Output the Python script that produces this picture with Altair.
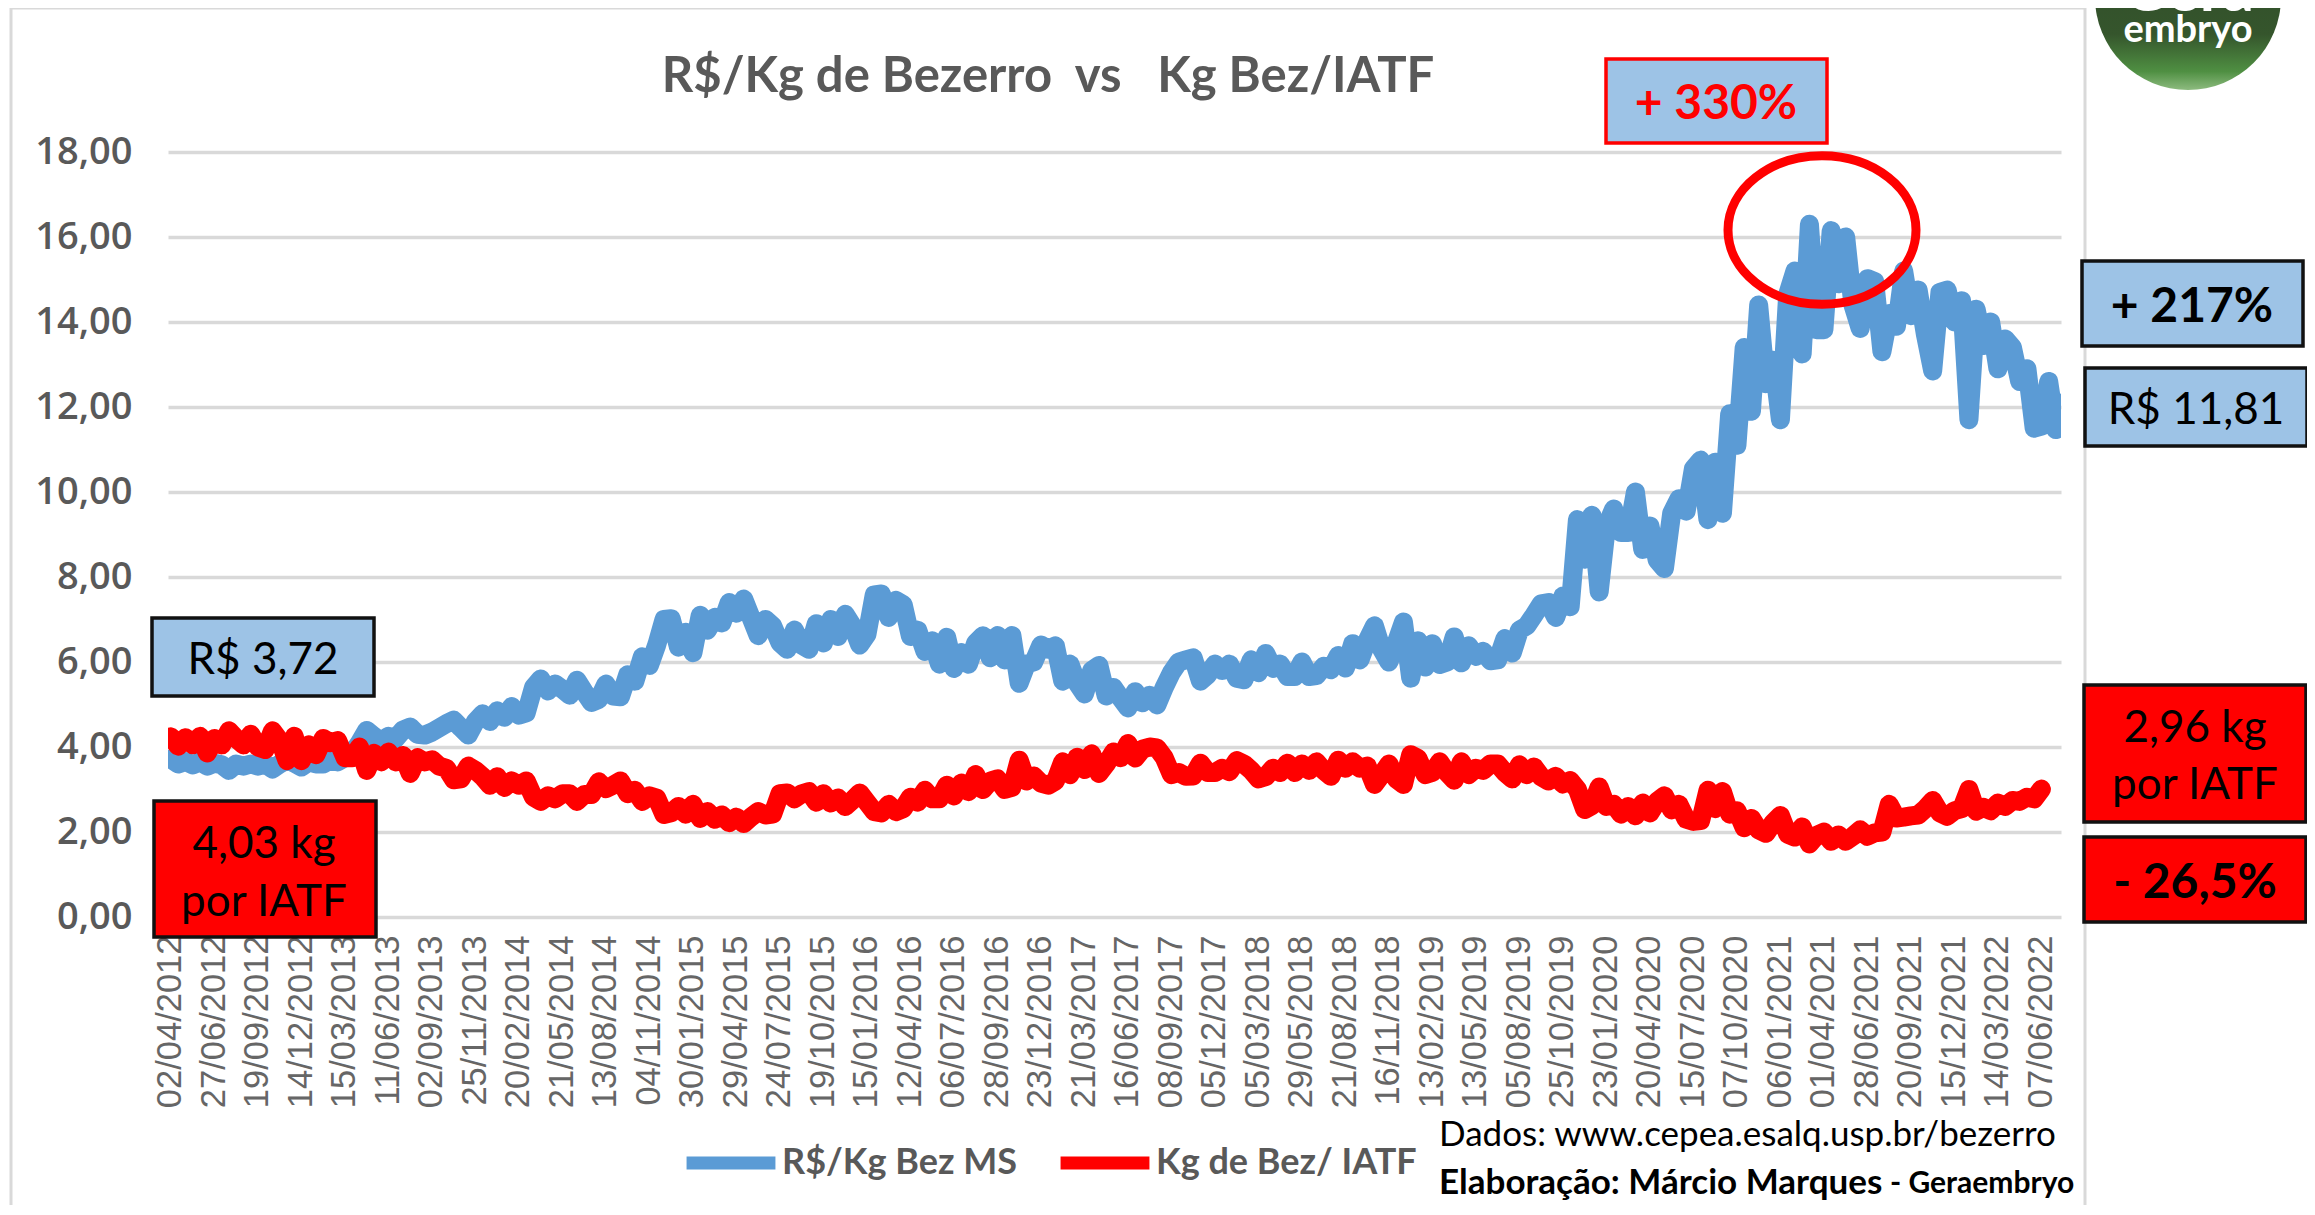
import altair as alt
import pandas as pd

dates = ["02/04/2012","27/06/2012","19/09/2012","14/12/2012","15/03/2013","11/06/2013","02/09/2013","25/11/2013",
"20/02/2014","21/05/2014","13/08/2014","04/11/2014","30/01/2015","29/04/2015","24/07/2015","19/10/2015",
"15/01/2016","12/04/2016","06/07/2016","28/09/2016","23/12/2016","21/03/2017","16/06/2017","08/09/2017",
"05/12/2017","05/03/2018","29/05/2018","21/08/2018","16/11/2018","13/02/2019","13/05/2019","05/08/2019",
"25/10/2019","23/01/2020","20/04/2020","15/07/2020","07/10/2020","06/01/2021","01/04/2021","28/06/2021",
"20/09/2021","15/12/2021","14/03/2022","07/06/2022"]

preco = [
3.72,3.60,3.66,3.58,3.65,3.55,3.62,3.58,3.45,3.60,
3.55,3.60,3.55,3.60,3.48,3.60,3.70,3.62,3.53,3.65,
3.60,3.60,3.70,3.65,3.75,3.85,4.10,4.39,4.25,4.13,
4.25,4.20,4.40,4.47,4.30,4.28,4.35,4.45,4.55,4.63,
4.45,4.28,4.60,4.78,4.60,4.85,4.70,4.95,
4.75,4.80,5.40,5.60,5.32,5.48,5.36,5.22,5.57,5.30,
5.05,5.12,5.48,5.20,5.18,5.70,5.55,6.12,5.92,6.40,
7.00,7.02,6.35,6.70,6.22,7.10,6.75,7.05,6.92,7.40,
7.15,7.48,7.05,6.62,7.00,6.85,6.45,6.30,6.75,6.40,
6.30,6.90,6.45,7.00,6.60,7.12,6.85,6.40,6.65,7.58,
7.60,7.05,7.45,7.35,6.60,6.75,6.25,6.50,5.95,6.58,
5.85,6.22,5.95,6.45,6.62,6.10,6.62,6.05,6.62,5.50,
5.95,6.00,6.40,6.30,6.38,5.55,5.95,5.50,5.25,5.80,
5.92,5.20,5.40,5.15,4.92,5.30,5.04,5.22,4.99,5.40,
5.75,6.00,6.05,6.10,5.55,5.70,5.95,5.80,5.95,5.62,
5.58,6.05,5.75,6.20,5.85,5.95,5.66,5.66,6.00,5.66,
5.68,5.90,5.82,6.15,5.86,6.43,6.05,6.50,6.85,6.30,
6.00,6.45,6.94,5.62,6.50,5.88,6.43,5.94,6.00,6.59,
5.98,6.38,6.13,6.25,6.03,6.05,6.55,6.21,6.75,6.85,
7.10,7.37,7.40,7.05,7.55,7.30,9.35,8.42,9.45,7.65,
9.20,9.60,9.05,9.05,10.00,8.65,9.20,8.40,8.20,9.50,
9.84,9.55,10.55,10.75,9.35,10.70,9.50,11.84,11.10,13.40,
11.90,14.40,12.55,13.10,11.70,14.65,15.20,13.25,16.30,13.82,
13.82,16.15,14.90,16.00,14.40,13.85,15.02,14.95,13.30,14.20,
13.90,15.20,14.15,14.75,13.70,12.85,14.70,14.75,14.00,14.50,
11.70,14.30,13.45,14.00,12.90,13.60,13.40,12.60,12.90,11.50,
11.55,12.60,11.47,12.10]

kg = [
4.24,4.02,4.22,4.05,4.25,3.86,4.20,4.05,4.38,4.20,
4.05,4.30,4.00,3.94,4.38,4.15,3.68,4.25,3.68,4.05,
3.82,4.20,4.10,4.15,3.75,3.75,4.00,3.45,3.85,3.65,
3.88,3.65,3.80,3.38,3.75,3.65,3.70,3.55,3.50,3.23,
3.25,3.55,3.45,3.30,3.10,3.30,3.05,3.20,
3.10,3.20,2.82,2.72,2.85,2.78,2.90,2.90,2.72,2.88,
2.88,3.18,3.02,3.10,3.20,2.90,2.98,2.72,2.85,2.80,
2.41,2.45,2.60,2.42,2.65,2.32,2.48,2.30,2.40,2.22,
2.35,2.20,2.35,2.48,2.40,2.42,2.90,2.92,2.78,2.90,
2.95,2.70,2.90,2.68,2.80,2.60,2.75,2.92,2.70,2.48,
2.45,2.65,2.48,2.55,2.82,2.70,2.98,2.78,2.78,3.10,
2.85,3.15,2.95,3.35,3.00,3.20,3.25,3.00,3.05,3.69,
3.20,3.32,3.15,3.10,3.20,3.65,3.35,3.76,3.47,3.84,
3.38,3.60,3.88,3.75,4.08,3.74,3.95,4.00,3.98,3.75,
3.35,3.40,3.31,3.32,3.62,3.40,3.40,3.50,3.42,3.68,
3.60,3.45,3.25,3.30,3.50,3.40,3.62,3.40,3.60,3.45,
3.65,3.45,3.31,3.69,3.50,3.65,3.50,3.55,3.12,3.35,
3.60,3.25,3.12,3.82,3.73,3.35,3.40,3.65,3.40,3.22,
3.65,3.35,3.50,3.45,3.60,3.60,3.40,3.25,3.58,3.35,
3.53,3.30,3.20,3.31,3.13,3.21,3.00,2.53,2.62,3.06,
2.60,2.65,2.42,2.60,2.38,2.68,2.45,2.72,2.85,2.52,
2.65,2.30,2.25,2.27,2.98,2.55,2.95,2.42,2.50,2.10,
2.32,2.05,1.97,2.22,2.39,1.95,1.88,2.12,1.72,1.92,
2.00,1.78,1.93,1.78,1.90,2.05,1.90,1.98,2.00,2.65,
2.33,2.35,2.38,2.40,2.55,2.74,2.45,2.37,2.50,2.55,
3.00,2.49,2.58,2.50,2.68,2.60,2.74,2.72,2.82,2.78,3.01]

assert len(preco) == 262, len(preco)
assert len(kg) == 259, len(kg)

BLUE, RED, BOX = "#5B9BD5", "#FF0000", "#9DC3E6"
GREY = "#595959"
GRID = "#D9D9D9"
L0, T0 = 168, 152   # page position of the plot area
W, H = 1893, 765
TICK_STEP = 6       # samples between labelled dates
S1, S2 = "R$/Kg Bez MS", "Kg de Bez/ IATF"

df1 = pd.DataFrame({"i": range(len(preco)), "v": preco, "s": S1})
df2 = pd.DataFrame({"i": range(len(kg)), "v": kg, "s": S2})

label_arr = "[" + ",".join(f"'{d}'" for d in dates) + "]"
x_enc = alt.X("i:Q",
    scale=alt.Scale(domain=[-0.41, 260.7], nice=False, zero=False),
    axis=alt.Axis(values=[k * TICK_STEP for k in range(len(dates))],
                  labelExpr=f"{label_arr}[round(datum.value/{TICK_STEP})]",
                  labelAngle=270, labelFont="Liberation Sans", labelFontSize=34.5,
                  labelColor="#666666", labelOverlap=False, labelBound=False, labelFlush=False,
                  labelPadding=18, ticks=False, domain=False, grid=False, title=None))
y_enc = alt.Y("v:Q",
    scale=alt.Scale(domain=[0, 18], nice=False),
    axis=alt.Axis(values=list(range(0, 19, 2)),
                  labelExpr="replace(format(datum.value,'.2f'),'.',',')",
                  labelFont="Open Sans", labelFontSize=38, labelFontWeight=600, labelColor=GREY,
                  labelPadding=36, ticks=False, domain=False, gridColor=GRID, gridWidth=3.5,
                  title=None))
col = alt.Color("s:N",
    scale=alt.Scale(domain=[S1, S2], range=[BLUE, RED]),
    legend=alt.Legend(orient="none", legendX=680 - L0, legendY=1112 - T0, direction="horizontal",
                      title=None, symbolType="stroke", symbolSize=7900, symbolStrokeWidth=13,
                      labelFont="Lato", labelFontWeight="bold", labelFontSize=36, labelColor=GREY,
                      labelOffset=0, columnPadding=17, labelLimit=400))

def line(d):
    return alt.Chart(d).mark_line(strokeWidth=19, strokeCap="round", strokeJoin="round",
                                  clip=True).encode(x=x_enc, y=y_enc, color=col)

one = pd.DataFrame({"a": [0]})

def box(x0, y0, x1, y1, fill, stroke, sw=3.5):
    return alt.Chart(one).mark_rect(fill=fill, stroke=stroke, strokeWidth=sw).encode(
        x=alt.value(x0 - L0), x2=alt.value(x1 - L0), y=alt.value(y0 - T0), y2=alt.value(y1 - T0))

def txt(s, x, y, size, color="black", weight="normal", align="center", font="Lato"):
    return alt.Chart(one).mark_text(text=s, fontSize=size, fontWeight=weight, color=color,
                                    align=align, baseline="middle", font=font).encode(
        x=alt.value(x - L0), y=alt.value(y - T0))

ellipse = alt.Chart(one).mark_point(
    shape="M-1,0 A1,0.79 0 1,1 1,0 A1,0.79 0 1,1 -1,0 Z",
    size=188 ** 2, filled=False, stroke=RED, strokeWidth=9, opacity=1
).encode(x=alt.value(1822 - L0), y=alt.value(230 - T0))

logo = alt.Chart(one).mark_circle(
    size=186 ** 2, opacity=1,
    fill=alt.LinearGradient(gradient="linear", x1=0.5, y1=0, x2=0.5, y2=1, stops=[
        alt.GradientStop(offset=0, color="#2f4a2a"),
        alt.GradientStop(offset=0.7, color="#35552c"),
        alt.GradientStop(offset=0.9, color="#4f8f42"),
        alt.GradientStop(offset=1, color="#8dbb7f")])
).encode(x=alt.value(2188 - L0), y=alt.value(-3 - T0))

layers = [
    box(11, 8, 2085, 1300, "transparent", GRID, 3),
    line(df1), line(df2),
    ellipse,
    txt("R$/Kg de Bezerro\u00a0\u00a0vs\u00a0\u00a0\u00a0Kg Bez/IATF", 1048, 77, 49, GREY, "bold"),
    box(1606, 59, 1827, 143, BOX, RED),
    txt("+ 330%", 1716, 105, 48, RED, "bold"),
    box(152, 618, 374, 696, BOX, "#111111"),
    txt("R$ 3,72", 263, 661, 44),
    box(154, 801, 376, 937, RED, "#111111"),
    txt("4,03 kg", 264, 845, 44),
    txt("por IATF", 264, 903, 44),
    box(2082, 261, 2303, 346, BOX, "#111111"),
    txt("+ 217%", 2192, 308, 48, "black", "bold"),
    box(2085, 368, 2307, 446, BOX, "#111111"),
    txt("R$ 11,81", 2196, 411, 44),
    box(2084, 685, 2306, 822, RED, "#111111"),
    txt("2,96 kg", 2195, 729, 44),
    txt("por IATF", 2195, 786, 44),
    box(2084, 837, 2306, 922, RED, "#111111"),
    txt("- 26,5%", 2195, 884, 48, "black", "bold"),
    txt("Dados: www.cepea.esalq.usp.br/bezerro", 1439, 1135, 35, align="left"),
    txt("Elaboração: Márcio Marques", 1439, 1183, 35, weight="bold", align="left"),
    txt("- Geraembryo", 1890, 1184, 30, weight="bold", align="left"),
    logo,
    txt("Gera", 2188, -8, 62, "white", "bold"),
    txt("embryo", 2188, 31, 38, "white", "bold"),
]

chart = alt.layer(*layers).resolve_scale(color="shared").properties(
    width=W, height=H,
    padding={"left": L0 - 8, "top": T0 - 8, "right": 2307 - L0 - W, "bottom": 1205 - T0 - H},
    autosize=alt.AutoSizeParams(type="none"),
    background="white",
).configure_view(stroke=None)

chart.save("out.html", embed_options={"renderer": "svg", "actions": False})
